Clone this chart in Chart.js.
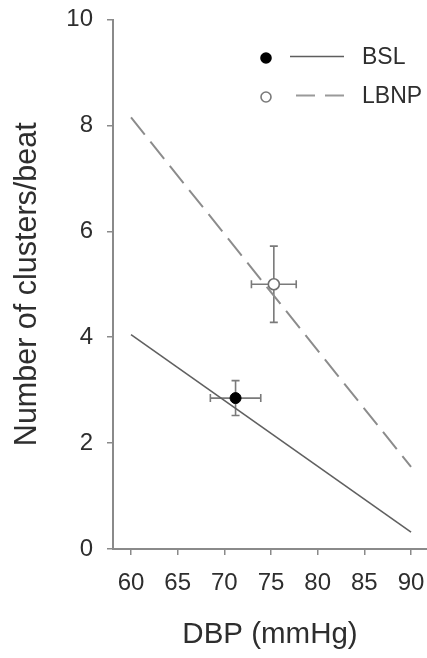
<!DOCTYPE html>
<html>
<head>
<meta charset="utf-8">
<script src="https://cdn.jsdelivr.net/npm/chart.js@4"></script>
<style>
  html, body { margin: 0; padding: 0; background: #fff; }
  #wrap { width: 427px; height: 658px; }
</style>
</head>
<body>
<div id="wrap"><canvas id="clusterChart" width="427" height="658"></canvas></div>
<script>
// mean values with SD error bars
const seriesNames = ['BSL', 'LBNP'];
const meanDBP = [71.2, 75.3];
const meanClusters = [2.85, 5.0];
const errDBP = [2.7, 2.4];
const errClusters = [0.33, 0.72];

// regression lines, endpoints at DBP 60 and 90
const fitDBP = [60, 90];
const bslFit = [4.05, 0.32];
const lbnpFit = [8.15, 1.55];

const xTicks = [60, 65, 70, 75, 80, 85, 90];
const yTicks = [0, 2, 4, 6, 8, 10];

const FONT = 'Liberation Sans, Arial, Helvetica, sans-serif';
const AXIS_GREY = '#8a8a8a';
const TEXT = '#2e2e2e';

const toPoints = (xs, ys) => xs.map((x, i) => ({ x, y: ys[i] }));

const errorBars = {
    id: 'errorBars',
    beforeDatasetsDraw(chart) {
        const { ctx, scales: { x, y } } = chart;
        const cap = 4;
        ctx.save();
        ctx.strokeStyle = '#7a7a7a';
        ctx.lineWidth = 1.6;
        meanDBP.forEach((mx, i) => {
            const my = meanClusters[i];
            const px = x.getPixelForValue(mx);
            const py = y.getPixelForValue(my);
            const x0 = x.getPixelForValue(mx - errDBP[i]);
            const x1 = x.getPixelForValue(mx + errDBP[i]);
            const y0 = y.getPixelForValue(my - errClusters[i]);
            const y1 = y.getPixelForValue(my + errClusters[i]);
            ctx.beginPath();
            ctx.moveTo(x0, py); ctx.lineTo(x1, py);
            ctx.moveTo(x0, py - cap); ctx.lineTo(x0, py + cap);
            ctx.moveTo(x1, py - cap); ctx.lineTo(x1, py + cap);
            ctx.moveTo(px, y0); ctx.lineTo(px, y1);
            ctx.moveTo(px - cap, y0); ctx.lineTo(px + cap, y0);
            ctx.moveTo(px - cap, y1); ctx.lineTo(px + cap, y1);
            ctx.stroke();
        });
        ctx.restore();
    }
};

// small legend in the top right: marker, line sample, name
const sideLegend = {
    id: 'sideLegend',
    afterDraw(chart) {
        const ctx = chart.ctx;
        const rows = [
            { y: 58, fill: '#000', stroke: '#000', dash: [], color: '#5e5e5e' },
            { y: 97, fill: '#fff', stroke: '#7a7a7a', dash: [19, 10], color: '#9a9a9a' }
        ];
        ctx.save();
        rows.forEach((r, i) => {
            ctx.beginPath();
            ctx.arc(266, r.y, 5, 0, Math.PI * 2);
            ctx.fillStyle = r.fill;
            ctx.fill();
            ctx.lineWidth = 1.6;
            ctx.strokeStyle = r.stroke;
            ctx.stroke();

            ctx.beginPath();
            ctx.setLineDash(r.dash);
            ctx.strokeStyle = r.color;
            ctx.lineWidth = i === 0 ? 1.5 : 2;
            ctx.moveTo(i === 0 ? 290 : 296, r.y - 1.5);
            ctx.lineTo(344, r.y - 1.5);
            ctx.stroke();
            ctx.setLineDash([]);

            ctx.fillStyle = TEXT;
            ctx.font = '23px ' + FONT;
            ctx.textBaseline = 'middle';
            ctx.textAlign = 'left';
            ctx.fillText(seriesNames[i], 362, r.y);
        });
        ctx.restore();
    }
};

new Chart(document.getElementById('clusterChart'), {
    type: 'scatter',
    data: {
        datasets: [
            {
                label: seriesNames[0],
                data: toPoints(meanDBP.slice(0, 1), meanClusters.slice(0, 1)),
                pointRadius: 5.5,
                pointBackgroundColor: '#000',
                pointBorderColor: '#000',
                order: 0
            },
            {
                label: seriesNames[1],
                data: toPoints(meanDBP.slice(1), meanClusters.slice(1)),
                pointRadius: 5.5,
                pointBackgroundColor: '#fff',
                pointBorderColor: '#707070',
                pointBorderWidth: 1.6,
                order: 0
            },
            {
                type: 'line',
                label: seriesNames[0] + ' fit',
                data: toPoints(fitDBP, bslFit),
                borderColor: '#606060',
                borderWidth: 1.6,
                pointRadius: 0,
                fill: false,
                order: 1
            },
            {
                type: 'line',
                label: seriesNames[1] + ' fit',
                data: toPoints(fitDBP, lbnpFit),
                borderColor: '#8c8c8c',
                borderWidth: 2,
                borderDash: [22, 9],
                pointRadius: 0,
                fill: false,
                order: 1
            }
        ]
    },
    options: {
        responsive: false,
        animation: false,
        layout: { padding: 0, autoPadding: false },
        plugins: {
            legend: { display: false },
            tooltip: { enabled: false }
        },
        scales: {
            x: {
                type: 'linear',
                min: 58.07,
                max: 91.71,
                afterBuildTicks: (s) => { s.ticks = xTicks.map(v => ({ value: v })); },
                afterFit: (s) => { s.height = 109; s.paddingLeft = 0; s.paddingRight = 0; },
                grid: { drawOnChartArea: false, tickLength: 6, color: AXIS_GREY, lineWidth: 1.5 },
                border: { color: AXIS_GREY, width: 2 },
                ticks: { color: TEXT, padding: 14, font: { family: FONT, size: 24 } },
                title: {
                    display: true,
                    text: 'DBP (mmHg)',
                    color: TEXT,
                    padding: { top: 0, bottom: 5 },
                    font: { family: FONT, size: 29.5 }
                }
            },
            y: {
                min: 0,
                max: 10,
                afterBuildTicks: (s) => { s.ticks = yTicks.map(v => ({ value: v })); },
                afterFit: (s) => { s.width = 113; s.paddingTop = 19.5; s.paddingBottom = 0; },
                grid: { drawOnChartArea: false, tickLength: 6, color: AXIS_GREY, lineWidth: 1.5 },
                border: { color: AXIS_GREY, width: 2 },
                ticks: { color: TEXT, padding: 14, font: { family: FONT, size: 24 } },
                title: {
                    display: true,
                    text: 'Number of clusters/beat',
                    color: TEXT,
                    padding: { top: 9, bottom: 0 },
                    font: { family: FONT, size: 30.5 }
                }
            }
        }
    },
    plugins: [errorBars, sideLegend]
});
</script>
</body>
</html>
